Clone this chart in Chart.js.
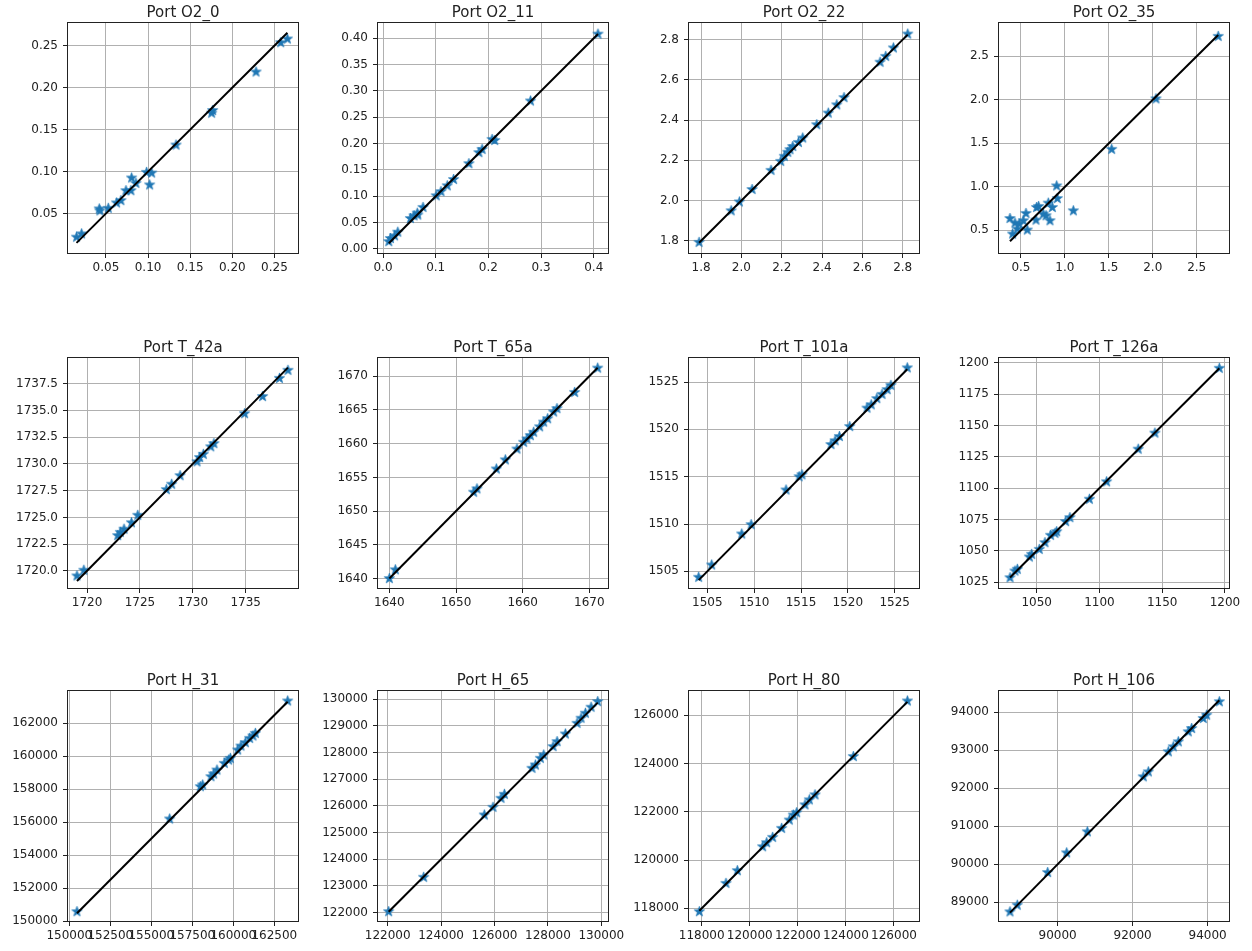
<!DOCTYPE html>
<html><head><meta charset="utf-8">
<script src="https://cdn.jsdelivr.net/npm/chart.js@4/dist/chart.umd.min.js"></script>
<style>
html,body{margin:0;padding:0;background:#fff;}
#wrap{position:relative;width:1252px;height:951px;overflow:hidden;background:#fff;}
#wrap canvas{position:absolute;}
</style></head><body><div id="wrap"></div>
<script>
// ---------- data (true vs predicted) ----------
const O2_0_true = [0.0151,0.0211,0.0421,0.0429,0.0528,0.0627,0.0678,0.0738,0.0797,0.0805,0.0856,0.0983,0.1043,0.1019,0.1332,0.1755,0.1767,0.2282,0.2575,0.2654];
const O2_0_pred = [0.0219,0.0258,0.0555,0.0532,0.0563,0.0627,0.0654,0.0773,0.0773,0.0924,0.0860,0.0991,0.0983,0.0841,0.1316,0.1696,0.1728,0.2187,0.2536,0.2580];
const O2_0_xticks = ["0.05","0.10","0.15","0.20","0.25"];
const O2_0_yticks = ["0.05","0.10","0.15","0.20","0.25"];

const O2_11_true = [0.011,0.014,0.022,0.028,0.052,0.059,0.065,0.066,0.076,0.101,0.110,0.122,0.134,0.163,0.182,0.188,0.207,0.212,0.280,0.408];
const O2_11_pred = [0.014,0.020,0.025,0.032,0.058,0.063,0.068,0.0645,0.079,0.101,0.109,0.120,0.132,0.162,0.183,0.189,0.208,0.206,0.281,0.408];
const O2_11_xticks = ["0.0","0.1","0.2","0.3","0.4"];
const O2_11_yticks = ["0.00","0.05","0.10","0.15","0.20","0.25","0.30","0.35","0.40"];

const O2_22_true = [1.790,1.949,1.990,2.053,2.147,2.195,2.213,2.230,2.241,2.255,2.283,2.304,2.374,2.431,2.473,2.509,2.688,2.716,2.754,2.825];
const O2_22_pred = [1.792,1.949,1.993,2.055,2.150,2.195,2.220,2.240,2.253,2.269,2.289,2.311,2.377,2.435,2.476,2.512,2.688,2.717,2.759,2.828];
const O2_22_xticks = ["1.8","2.0","2.2","2.4","2.6","2.8"];
const O2_22_yticks = ["1.8","2.0","2.2","2.4","2.6","2.8"];

const O2_35_true = [0.375,0.432,0.405,0.458,0.481,0.527,0.557,0.572,0.671,0.678,0.701,0.754,0.785,0.811,0.830,0.857,0.914,0.906,1.096,1.532,2.037,2.745];
const O2_35_pred = [0.637,0.584,0.458,0.515,0.573,0.611,0.695,0.504,0.618,0.763,0.775,0.687,0.668,0.813,0.611,0.763,0.866,1.011,0.725,1.431,2.011,2.729];
const O2_35_xticks = ["0.5","1.0","1.5","2.0","2.5"];
const O2_35_yticks = ["0.5","1.0","1.5","2.0","2.5"];

const T_42a_true = [1719.05,1719.7,1722.9,1723.15,1723.5,1724.2,1724.8,1727.5,1728.0,1728.8,1730.4,1730.65,1731.0,1731.7,1732.0,1734.9,1736.6,1738.2,1739.0];
const T_42a_pred = [1719.53,1720.06,1723.3,1723.6,1723.9,1724.5,1725.2,1727.6,1728.1,1728.9,1730.2,1730.6,1730.9,1731.6,1731.9,1734.7,1736.3,1738.0,1738.75];
const T_42a_xticks = ["1720","1725","1730","1735"];
const T_42a_yticks = ["1720.0","1722.5","1725.0","1727.5","1730.0","1732.5","1735.0","1737.5"];

const T_65a_true = [1640.0,1640.9,1652.65,1653.15,1656.05,1657.4,1659.15,1660.15,1660.65,1661.15,1661.65,1662.55,1663.15,1663.75,1664.65,1665.15,1667.8,1671.25];
const T_65a_pred = [1640.0,1641.3,1652.8,1653.3,1656.25,1657.6,1659.2,1660.2,1660.7,1661.2,1661.7,1662.5,1663.2,1663.7,1664.7,1665.2,1667.6,1671.2];
const T_65a_xticks = ["1640","1650","1660","1670"];
const T_65a_yticks = ["1640","1645","1650","1655","1660","1665","1670"];

const T_101a_true = [1504.07,1505.46,1508.67,1509.68,1513.4,1514.8,1515.1,1518.2,1518.65,1519.1,1520.2,1522.05,1522.5,1523.1,1523.65,1524.2,1524.6,1526.35];
const T_101a_pred = [1504.37,1505.67,1508.95,1509.93,1513.6,1515.0,1515.2,1518.4,1518.8,1519.25,1520.3,1522.25,1522.6,1523.25,1523.7,1524.2,1524.65,1526.5];
const T_101a_xticks = ["1505","1510","1515","1520","1525"];
const T_101a_yticks = ["1505","1510","1515","1520","1525"];

const T_126a_true = [1028.8,1032.7,1034.6,1044.2,1046.0,1052.1,1056.6,1061.1,1064.6,1065.9,1073.1,1076.5,1092.0,1105.7,1130.9,1144.2,1195.5];
const T_126a_pred = [1028.7,1034.0,1035.4,1045.2,1047.3,1051.3,1056.6,1062.5,1064.1,1065.4,1073.4,1076.6,1091.2,1105.1,1131.1,1143.9,1195.5];
const T_126a_xticks = ["1050","1100","1150","1200"];
const T_126a_yticks = ["1025","1050","1075","1100","1125","1150","1175","1200"];

const H_31_true = [150467,156118,157988,158130,158638,158801,159004,159451,159715,159817,160264,160467,160732,160996,161199,161341,163313];
const H_31_pred = [150567,156192,158155,158256,158762,158924,159166,159571,159773,159875,160381,160623,160826,161089,161231,161393,163355];
const H_31_xticks = ["150000","152500","155000","157500","160000","162500"];
const H_31_yticks = ["150000","152000","154000","156000","158000","160000","162000"];

const H_65_true = [122037,123348,125620,125945,126245,126370,127406,127531,127718,127843,128193,128343,128655,129092,129242,129404,129617,129866];
const H_65_pred = [122037,123324,125659,125946,126283,126433,127406,127531,127781,127905,128218,128405,128692,129092,129280,129467,129692,129904];
const H_65_xticks = ["122000","124000","126000","128000","130000"];
const H_65_yticks = ["122000","123000","124000","125000","126000","127000","128000","129000","130000"];

const H_80_true = [117903,119012,119484,120538,120704,120954,121328,121647,121813,121952,122299,122479,122715,124310,126557];
const H_80_pred = [117862,119036,119561,120555,120721,120942,121315,121660,121867,121964,122290,122497,122704,124293,126594];
const H_80_xticks = ["118000","120000","122000","124000","126000"];
const H_80_yticks = ["118000","120000","122000","124000","126000"];

const H_106_true = [88729,88924,89733,90240,90791,92284,92418,92951,93084,93218,93484,93573,93884,93973,94311];
const H_106_pred = [88751,88926,89784,90301,90853,92298,92429,92955,93086,93218,93480,93568,93830,93918,94271];
const H_106_xticks = ["90000","92000","94000"];
const H_106_yticks = ["89000","90000","91000","92000","93000","94000"];

// ---------- panel setup ----------
const panels = [
  {title:'Port O2_0',  x:O2_0_true,  y:O2_0_pred,  xt:O2_0_xticks,  yt:O2_0_yticks,  xlim:[0.005,0.278], ylim:[0.003,0.277]},
  {title:'Port O2_11', x:O2_11_true, y:O2_11_pred, xt:O2_11_xticks, yt:O2_11_yticks, xlim:[-0.0095,0.427], ylim:[-0.0076,0.429]},
  {title:'Port O2_22', x:O2_22_true, y:O2_22_pred, xt:O2_22_xticks, yt:O2_22_yticks, xlim:[1.740,2.881], ylim:[1.739,2.883]},
  {title:'Port O2_35', x:O2_35_true, y:O2_35_pred, xt:O2_35_xticks, yt:O2_35_yticks, xlim:[0.25,2.868], ylim:[0.24,2.882]},
  {title:'Port T_42a', x:T_42a_true, y:T_42a_pred, xt:T_42a_xticks, yt:T_42a_yticks, xlim:[1718.2,1739.95], ylim:[1718.4,1739.9]},
  {title:'Port T_65a', x:T_65a_true, y:T_65a_pred, xt:T_65a_xticks, yt:T_65a_yticks, xlim:[1638.3,1672.8], ylim:[1638.6,1672.7]},
  {title:'Port T_101a',x:T_101a_true,y:T_101a_pred,xt:T_101a_xticks,yt:T_101a_yticks,xlim:[1503.04,1527.6], ylim:[1503.24,1527.54]},
  {title:'Port T_126a',x:T_126a_true,y:T_126a_pred,xt:T_126a_xticks,yt:T_126a_yticks,xlim:[1020.0,1203.2], ylim:[1020.5,1203.7]},
  {title:'Port H_31',  x:H_31_true,  y:H_31_pred,  xt:H_31_xticks,  yt:H_31_yticks,  xlim:[149919,163943], ylim:[150000,163962]},
  {title:'Port H_65',  x:H_65_true,  y:H_65_pred,  xt:H_65_xticks,  yt:H_65_yticks,  xlim:[121638,130250], ylim:[121688,130300]},
  {title:'Port H_80',  x:H_80_true,  y:H_80_pred,  xt:H_80_xticks,  yt:H_80_yticks,  xlim:[117473,127040], ylim:[117475,127008]},
  {title:'Port H_106', x:H_106_true, y:H_106_pred, xt:H_106_xticks, yt:H_106_yticks, xlim:[88436,94569], ylim:[88510,94552]}
];

const colLeft = [0, 310, 621, 931];
const rowTop = [0, 335, 668];
const CW = 320, CH = 284;
const FONT = "'DejaVu Sans', sans-serif";
const BLUE = '#1f77b4';

function makeStar(color, R){
  const s = Math.ceil(R*2+2);
  const c = document.createElement('canvas'); c.width = s; c.height = s;
  const g = c.getContext('2d'); const cx = s/2, cy = s/2, r = R*0.40;
  g.beginPath();
  for (let i=0;i<10;i++){
    const a = -Math.PI/2 + i*Math.PI/5; const rr = (i%2) ? r : R;
    g.lineTo(cx + rr*Math.cos(a), cy + rr*Math.sin(a));
  }
  g.closePath(); g.fillStyle = color; g.fill();
  g.lineWidth = 0.7; g.strokeStyle = color; g.stroke();
  return c;
}
const STAR = makeStar(BLUE, 5.4);

const framePlugin = {
  id:'frame',
  afterDraw(chart){
    const {ctx, chartArea:a} = chart;
    ctx.save(); ctx.strokeStyle = '#222'; ctx.lineWidth = 1;
    ctx.strokeRect(Math.round(a.left)-0.5, Math.round(a.top)-0.5, Math.round(a.right-a.left)+1, Math.round(a.bottom-a.top)+1);
    ctx.restore();
  }
};

function axis(lim, labels, isY){
  const vals = labels.map(parseFloat);
  return {
    type:'linear', min:lim[0], max:lim[1],
    afterBuildTicks: (sc) => { sc.ticks = vals.map(v => ({value:v})); },
    afterFit: (sc) => { if (isY) sc.width = 68; else sc.height = 31; },
    ticks:{
      autoSkip:false, maxRotation:0, minRotation:0,
      padding: isY ? 5 : 3,
      color:'#222', font:{family:FONT, size:12},
      callback: (v) => { const i = vals.findIndex(t => Math.abs(t - v) < 1e-9*Math.max(1,Math.abs(v))); return i >= 0 ? labels[i] : ''; }
    },
    grid:{ color:'#b0b0b0', lineWidth:1, drawTicks:true, tickLength:5, tickColor:'#222', tickWidth:1 },
    border:{ display:false }
  };
}

const wrap = document.getElementById('wrap');
panels.forEach((p, idx) => {
  const c = document.createElement('canvas');
  c.width = CW; c.height = CH;
  c.style.left = colLeft[idx % 4] + 'px';
  c.style.top = rowTop[Math.floor(idx / 4)] + 'px';
  c.style.width = CW + 'px'; c.style.height = CH + 'px';
  wrap.appendChild(c);
  const pts = p.x.map((v, i) => ({x:v, y:p.y[i]}));
  const lo = Math.min(...p.x), hi = Math.max(...p.x);
  new Chart(c, {
    type:'scatter',
    data:{ datasets:[
      { data:[{x:lo,y:lo},{x:hi,y:hi}], showLine:true, borderColor:'#000', borderWidth:2, pointRadius:0, order:0 },
      { data:pts, pointStyle:STAR, pointRadius:5, backgroundColor:BLUE, borderColor:BLUE, order:1 }
    ]},
    options:{
      responsive:false, animation:false, devicePixelRatio:1,
      layout:{ padding:{left:0, right:22, top:0, bottom:0} },
      plugins:{
        legend:{display:false}, tooltip:{enabled:false},
        title:{ display:true, text:p.title, fullSize:false, color:'#222',
                font:{family:FONT, size:15, weight:'normal', lineHeight:1.2},
                padding:{top:4, bottom:1} }
      },
      scales:{ x:axis(p.xlim, p.xt, false), y:axis(p.ylim, p.yt, true) }
    },
    plugins:[framePlugin]
  });
});
</script>
</body></html>
